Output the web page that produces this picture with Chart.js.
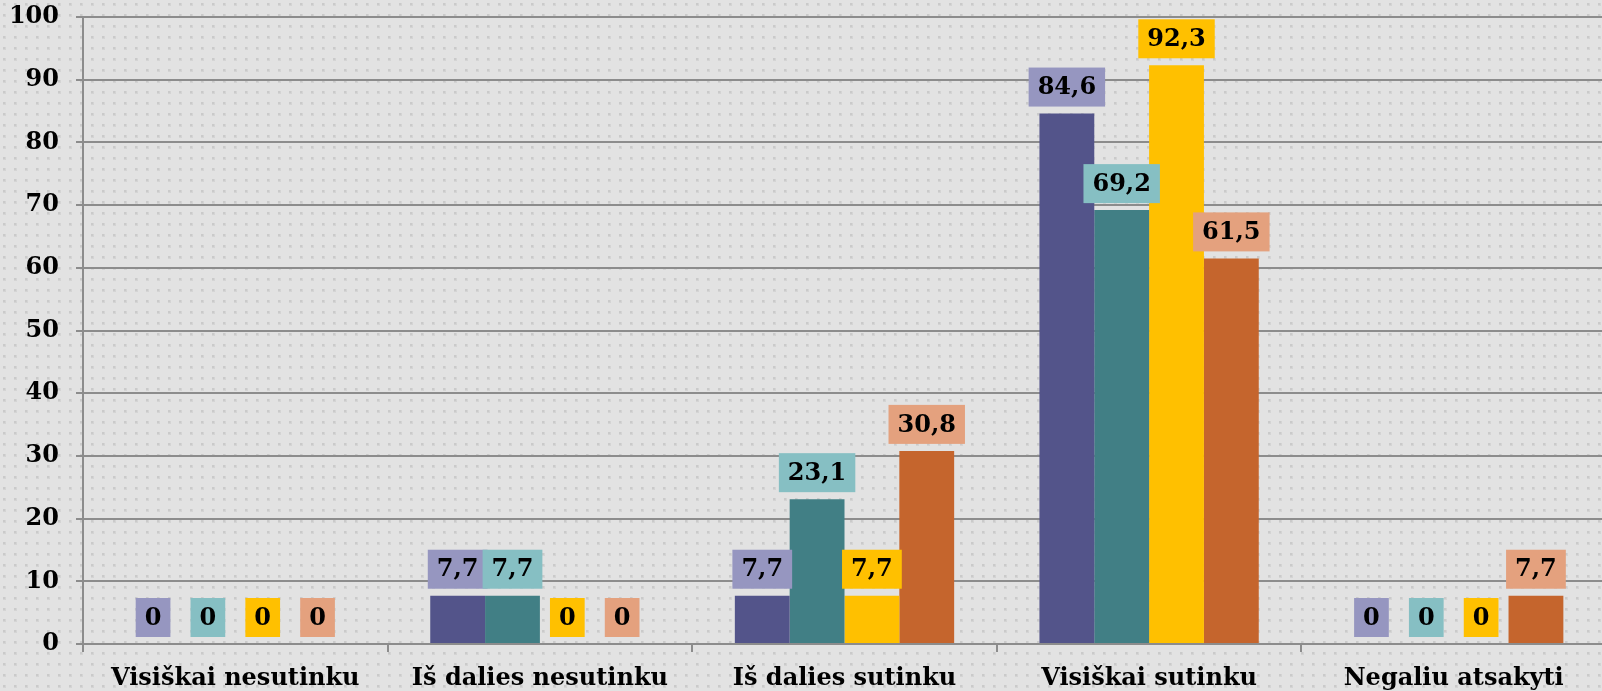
<!DOCTYPE html>
<html>
<head>
<meta charset="utf-8">
<script src="https://cdn.jsdelivr.net/npm/chart.js@4.4.1/dist/chart.umd.min.js"></script>
<style>
  html, body { margin: 0; padding: 0; overflow: hidden; background: #e1e1e1; }
  #wrap { width: 1606px; height: 691px; }
</style>
</head>
<body>
<div id="wrap"><canvas id="myChart" width="1606" height="691"></canvas></div>
<script>
const categories = ["Visiškai nesutinku", "Iš dalies nesutinku", "Iš dalies sutinku", "Visiškai sutinku", "Negaliu atsakyti"];
const seriesNames = ["Serija 1", "Serija 2", "Serija 3", "Serija 4"];
const series1 = [0, 7.7, 7.7, 84.6, 0];
const series2 = [0, 7.7, 23.1, 69.2, 0];
const series3 = [0, 0, 7.7, 92.3, 0];
const series4 = [0, 0, 30.8, 61.5, 7.7];
const yTicks = [0, 10, 20, 30, 40, 50, 60, 70, 80, 90, 100];

const barColors = ["#53548a", "#417f85", "#ffc000", "#c5652d"];
const boxColors = ["#9696c0", "#86bfc3", "#ffc000", "#e4a17e"];
const FONT = "'DejaVu Serif', 'Liberation Serif', serif";
const gridColor = "#8c8c8c";

// dotted grey backdrop
const dotted = {
  id: "dotted",
  beforeDraw(chart) {
    const tile = document.createElement("canvas");
    tile.width = 11;
    tile.height = 11;
    const t = tile.getContext("2d");
    t.fillStyle = "#e2e2e2";
    t.fillRect(0, 0, 11, 11);
    t.fillStyle = "#d4d4d4";
    t.fillRect(3, 3, 3, 3);
    t.fillStyle = "#cacaca";
    t.fillRect(3, 3, 2, 2);
    const ctx = chart.ctx;
    ctx.save();
    ctx.fillStyle = ctx.createPattern(tile, "repeat");
    ctx.fillRect(0, 0, chart.width, chart.height);
    ctx.restore();
  }
};

// value labels in coloured boxes above each bar
const valueBoxes = {
  id: "valueBoxes",
  afterDatasetsDraw(chart) {
    const ctx = chart.ctx;
    ctx.save();
    ctx.font = "bold 24px " + FONT;
    ctx.textAlign = "center";
    ctx.textBaseline = "middle";
    chart.data.datasets.forEach((ds, i) => {
      chart.getDatasetMeta(i).data.forEach((bar, j) => {
        const text = String(ds.data[j]).replace(".", ",");
        const w = ctx.measureText(text).width + 18;
        const h = 39;
        const bottom = bar.y - 7;
        ctx.fillStyle = boxColors[i];
        ctx.fillRect(bar.x - w / 2, bottom - h, w, h);
        ctx.fillStyle = "#000";
        ctx.fillText(text, bar.x, bottom - h / 2 + 1);
      });
    });
    ctx.restore();
  }
};

const ctx = document.getElementById("myChart").getContext("2d");
new Chart(ctx, {
  type: "bar",
  data: {
    labels: categories,
    datasets: [series1, series2, series3, series4].map((d, i) => ({
      label: seriesNames[i],
      data: d,
      backgroundColor: barColors[i],
      borderWidth: 0,
      barPercentage: 1,
      categoryPercentage: 0.72
    }))
  },
  options: {
    responsive: false,
    animation: false,
    layout: { padding: { top: 17, left: 0, right: 0, bottom: 0 } },
    plugins: {
      legend: { display: false },
      tooltip: { enabled: false }
    },
    scales: {
      x: {
        afterFit(scale) {
          scale.height = 47;
          scale.paddingLeft = 0;
          scale.paddingRight = 0;
        },
        grid: {
          drawOnChartArea: false,
          drawTicks: true,
          tickLength: 8,
          color: gridColor,
          lineWidth: 2
        },
        border: { color: gridColor, width: 2 },
        ticks: {
          color: "#000",
          padding: 12,
          font: { family: FONT, size: 24, weight: "bold" }
        }
      },
      y: {
        min: 0,
        max: 100,
        afterFit(scale) {
          scale.width = 83;
          scale.paddingTop = 0;
          scale.paddingBottom = 0;
        },
        afterBuildTicks(scale) { scale.ticks = yTicks.map(v => ({ value: v })); },
        grid: {
          color: gridColor,
          lineWidth: 2,
          tickLength: 7
        },
        border: { color: gridColor, width: 2 },
        ticks: {
          color: "#000",
          padding: 17,
          font: { family: FONT, size: 24, weight: "bold" }
        }
      }
    }
  },
  plugins: [dotted, valueBoxes]
});
</script>
</body>
</html>
